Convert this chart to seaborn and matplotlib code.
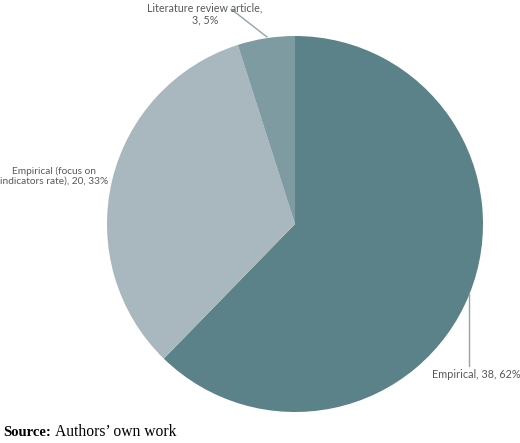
import matplotlib
matplotlib.use("Agg")
import matplotlib.pyplot as plt
import seaborn as sns

categories = ["Empirical", "Empirical (focus on\nindicators rate)", "Literature review\narticle"]
counts = [38, 20, 3]
percents = ["62%", "33%", "5%"]
colors = ["#5b8288", "#a9b8be", "#7e9ba1"]

sns.set_theme(style="white")
plt.rcParams['font.family'] = ['Lato', 'DejaVu Sans']

W, H = 520, 443
fig = plt.figure(figsize=(W / 100, H / 100), dpi=100)
ax = fig.add_axes([0, 0, 1, 1])

cx, cy, r = 295, H - 224, 188
ax.pie(counts, colors=colors, startangle=90, counterclock=False,
       center=(cx, cy), radius=r, frame=True,
       wedgeprops=dict(linewidth=0))
ax.set_xlim(0, W)
ax.set_ylim(0, H)
ax.set_aspect('equal')
ax.axis('off')

renderer = fig.canvas.get_renderer()

def fit(t, target_w):
    bb = t.get_window_extent(renderer)
    t.set_fontsize(t.get_fontsize() * target_w / bb.width)

tc = "#595959"
lc = "#8fa5ab"
fs = 9
# Empirical
ax.plot([469, 469], [H - 293, H - 366], color=lc, lw=1)
t1 = ax.text(476, H - 374, f"Empirical, {counts[0]}, {percents[0]}", ha='center', va='center',
             fontsize=fs, color=tc)
fit(t1, 88)
# Empirical focus
t2 = ax.text(54, H - 176, f"Empirical (focus on\nindicators rate), {counts[1]}, {percents[1]}",
             ha='center', va='center', fontsize=fs, color=tc, linespacing=1.2)
fit(t2, 108)
# Literature
ax.plot([231, 267], [H - 9, H - 37], color=lc, lw=1)
t3 = ax.text(205, H - 14, f"Literature review article,\n{counts[2]}, {percents[2]}",
             ha='center', va='center', fontsize=fs, color=tc, linespacing=1.2)
fit(t3, 116)

s1 = ax.text(3, H - 432, "Source:", ha='left', va='center', fontsize=10.5,
             family='Liberation Serif', fontweight='bold', color='black')
fit(s1, 48)
s2 = ax.text(55, H - 432, "Authors\u2019 own work", ha='left', va='center', fontsize=10.5,
             family='Liberation Serif', color='black')
fit(s2, 121)

fig.savefig("out.png", dpi=100)
